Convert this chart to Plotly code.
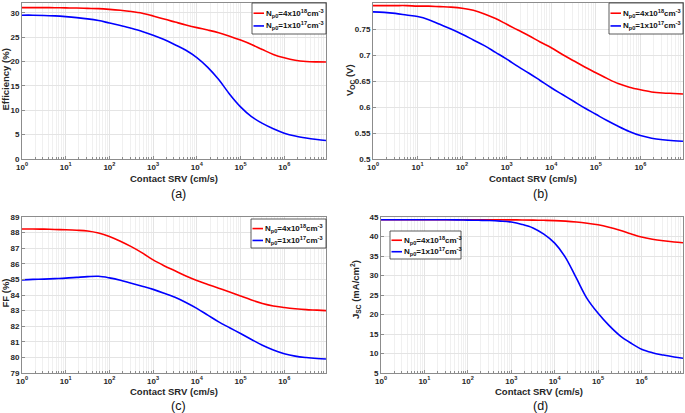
import plotly.graph_objects as go

W, H = 685, 413

srv = [1, 1.78, 3.16, 5.62, 10, 17.8, 31.6, 56.2, 100, 178, 316, 562, 1000, 1778, 3162,
       5623, 10000, 17783, 31623, 56234, 100000, 177828, 316228, 562341, 1000000,
       1778279, 3162278, 5623413, 9000000]

eff_red = [31.05, 31.05, 31.05, 31.03, 31.0, 30.96, 30.9, 30.84, 30.7, 30.5, 30.25, 29.9,
           29.35, 28.7, 28.1, 27.5, 26.95, 26.45, 25.9, 25.2, 24.4, 23.5, 22.45, 21.45,
           20.75, 20.25, 20.0, 19.92, 19.9]
eff_blue = [29.5, 29.5, 29.45, 29.35, 29.2, 29.0, 28.75, 28.4, 27.9, 27.4, 26.8, 26.15,
            25.4, 24.5, 23.45, 22.3, 20.8, 18.8, 16.3, 13.3, 10.7, 8.7, 7.3, 6.2, 5.3,
            4.7, 4.3, 4.0, 3.8]

voc_red = [0.795, 0.795, 0.795, 0.795, 0.794, 0.794, 0.793, 0.792, 0.790, 0.786, 0.779,
           0.770, 0.759, 0.748, 0.737, 0.725, 0.714, 0.701, 0.689, 0.677, 0.666, 0.655,
           0.645, 0.638, 0.633, 0.629, 0.627, 0.626, 0.625]
voc_blue = [0.783, 0.782, 0.780, 0.777, 0.774, 0.768, 0.759, 0.750, 0.740, 0.729, 0.718,
            0.705, 0.692, 0.678, 0.665, 0.651, 0.637, 0.624, 0.611, 0.598, 0.586, 0.574,
            0.563, 0.553, 0.545, 0.540, 0.537, 0.535, 0.534]

ff_red = [88.23, 88.23, 88.22, 88.20, 88.18, 88.15, 88.10, 87.97, 87.75, 87.45, 87.10,
          86.70, 86.25, 85.88, 85.55, 85.22, 84.93, 84.68, 84.44, 84.19, 83.93, 83.68,
          83.46, 83.30, 83.20, 83.12, 83.06, 83.03, 83.00]
ff_blue = [84.97, 85.00, 85.02, 85.05, 85.08, 85.13, 85.18, 85.20, 85.10, 84.95, 84.75,
           84.56, 84.36, 84.12, 83.85, 83.52, 83.14, 82.71, 82.28, 81.90, 81.53, 81.15,
           80.78, 80.48, 80.24, 80.08, 79.99, 79.93, 79.90]

jsc_red = [44.3, 44.3, 44.3, 44.3, 44.3, 44.3, 44.3, 44.3, 44.3, 44.3, 44.3, 44.28, 44.26,
           44.24, 44.2, 44.15, 44.08, 43.94, 43.72, 43.4, 43.0, 42.38, 41.6, 40.7, 39.85,
           39.3, 38.9, 38.6, 38.4]
jsc_blue = [44.3, 44.3, 44.3, 44.3, 44.3, 44.3, 44.28, 44.25, 44.2, 44.15, 44.1, 43.95,
            43.7, 43.1, 42.2, 40.6, 38.3, 34.6, 29.3, 24.0, 20.3, 17.2, 14.6, 12.7, 11.1,
            10.2, 9.6, 9.1, 8.8]

xtick_vals = [1, 10, 100, 1000, 10000, 100000, 1000000]
xtick_text = ["10<sup>0</sup>", "10<sup>1</sup>", "10<sup>2</sup>", "10<sup>3</sup>",
              "10<sup>4</sup>", "10<sup>5</sup>", "10<sup>6</sup>"]

legend_red = "N<sub>p0</sub>=4x10<sup>18</sup>cm<sup>-3</sup>"
legend_blue = "N<sub>p0</sub>=1x10<sup>17</sup>cm<sup>-3</sup>"

RED = "#ff0000"
BLUE = "#0000ff"
FONT = "Liberation Sans"

def px(x):
    return x / W

def py(y):
    return 1 - y / H

panels = [
    ("", (22, 326, 3, 159), [0, 32], 5, eff_red, eff_blue, "Efficiency (%)", (4.5, 80),
     (174, 178), (178, 194), (252, 326, 3, 34)),
    ("2", (373, 683, 3, 159), [0.5, 0.8], 0.05, voc_red, voc_blue, "V<sub>OC</sub> (V)", (350, 80),
     (533, 178), (540, 194), (609, 683, 3, 34)),
    ("3", (22, 326, 217, 373), [79, 89], 1, ff_red, ff_blue, "FF (%)", (4.5, 293),
     (174, 391), (178, 406), (251, 326, 219, 248)),
    ("4", (381, 683, 217, 373), [5, 45], 5, jsc_red, jsc_blue, "J<sub>SC</sub> (mA/cm<sup>2</sup>)", (355, 290),
     (539, 391), (540, 406), (390, 461, 231, 259)),
]

fig = go.Figure()
annotations = []
shapes = []
labels = ["(a)", "(b)", "(c)", "(d)"]

for i, (k, (x0, x1, yt, yb), yr, dt, red, blue, ytitle, ytp, xtp, lp, lb) in enumerate(panels):
    xa = "x" + k
    ya = "y" + k
    fig.add_trace(go.Scatter(x=srv, y=red, mode="lines", line=dict(color=RED, width=1.6, shape="spline"),
                             xaxis=xa, yaxis=ya, showlegend=False, hoverinfo="skip"))
    fig.add_trace(go.Scatter(x=srv, y=blue, mode="lines", line=dict(color=BLUE, width=1.6, shape="spline"),
                             xaxis=xa, yaxis=ya, showlegend=False, hoverinfo="skip"))
    fig.update_layout(**{
        "xaxis" + k: dict(
            domain=[px(x0), px(x1)], anchor=ya, type="log", range=[0, 6.955],
            tickvals=xtick_vals, ticktext=xtick_text, ticks="inside", ticklen=3,
            tickcolor="#8c8c8c", showline=True, linecolor="#8c8c8c", linewidth=1, mirror=True,
            showgrid=True, gridcolor="#e4e4e4", gridwidth=1, zeroline=False,
            minor=dict(showgrid=True, gridcolor="#f0f0f0", dtick="D1", ticks="inside",
                       ticklen=2, tickcolor="#8c8c8c"),
            tickfont=dict(size=8, family=FONT, color="#262626", weight="bold"),
            automargin=False,
        ),
        "yaxis" + k: dict(
            domain=[py(yb), py(yt)], anchor=xa, range=yr, dtick=dt,
            ticks="inside", ticklen=3, tickcolor="#8c8c8c",
            showline=True, linecolor="#8c8c8c", linewidth=1, mirror=True,
            showgrid=True, gridcolor="#e4e4e4", zeroline=False,
            tickfont=dict(size=8, family=FONT, color="#262626", weight="bold"),
            automargin=False,
        ),
    })
    annotations.append(dict(text=ytitle, x=px(ytp[0]), y=py(ytp[1]), xref="paper", yref="paper",
                            textangle=-90, showarrow=False, xanchor="center", yanchor="middle",
                            font=dict(size=9.5, family=FONT, color="#262626", weight="bold")))
    annotations.append(dict(text="Contact SRV (cm/s)", x=px(xtp[0]), y=py(xtp[1]), xref="paper",
                            yref="paper", showarrow=False, xanchor="center", yanchor="middle",
                            font=dict(size=9.5, family=FONT, color="#262626", weight="bold")))
    annotations.append(dict(text=labels[i], x=px(lp[0]), y=py(lp[1]), xref="paper", yref="paper",
                            showarrow=False, xanchor="center", yanchor="middle",
                            font=dict(size=12.5, family=FONT, color="#111111")))
    lx0, lx1, ly0, ly1 = lb
    shapes.append(dict(type="rect", xref="paper", yref="paper", x0=px(lx0), x1=px(lx1),
                       y0=py(ly1), y1=py(ly0), line=dict(color="#333333", width=0.8),
                       fillcolor="white", layer="above"))
    hh = ly1 - ly0
    for frac, col, txt in ((0.33, RED, legend_red), (0.74, BLUE, legend_blue)):
        yy = ly0 + frac * hh
        shapes.append(dict(type="line", xref="paper", yref="paper", x0=px(lx0 + 1.5), x1=px(lx0 + 12),
                           y0=py(yy), y1=py(yy), line=dict(color=col, width=1.6), layer="above"))
        annotations.append(dict(text=txt, x=px(lx0 + 12), y=py(yy), xref="paper", yref="paper",
                                showarrow=False, xanchor="left", yanchor="middle",
                                font=dict(size=8, family=FONT, color="#111111", weight="bold")))

fig.update_layout(width=W, height=H, margin=dict(l=0, r=0, t=0, b=0),
                  paper_bgcolor="white", plot_bgcolor="white",
                  annotations=annotations, shapes=shapes, showlegend=False)

fig.write_html("out.html", config={"displayModeBar": False},
               post_script="document.body.style.margin='0';document.body.style.overflow='hidden';")
